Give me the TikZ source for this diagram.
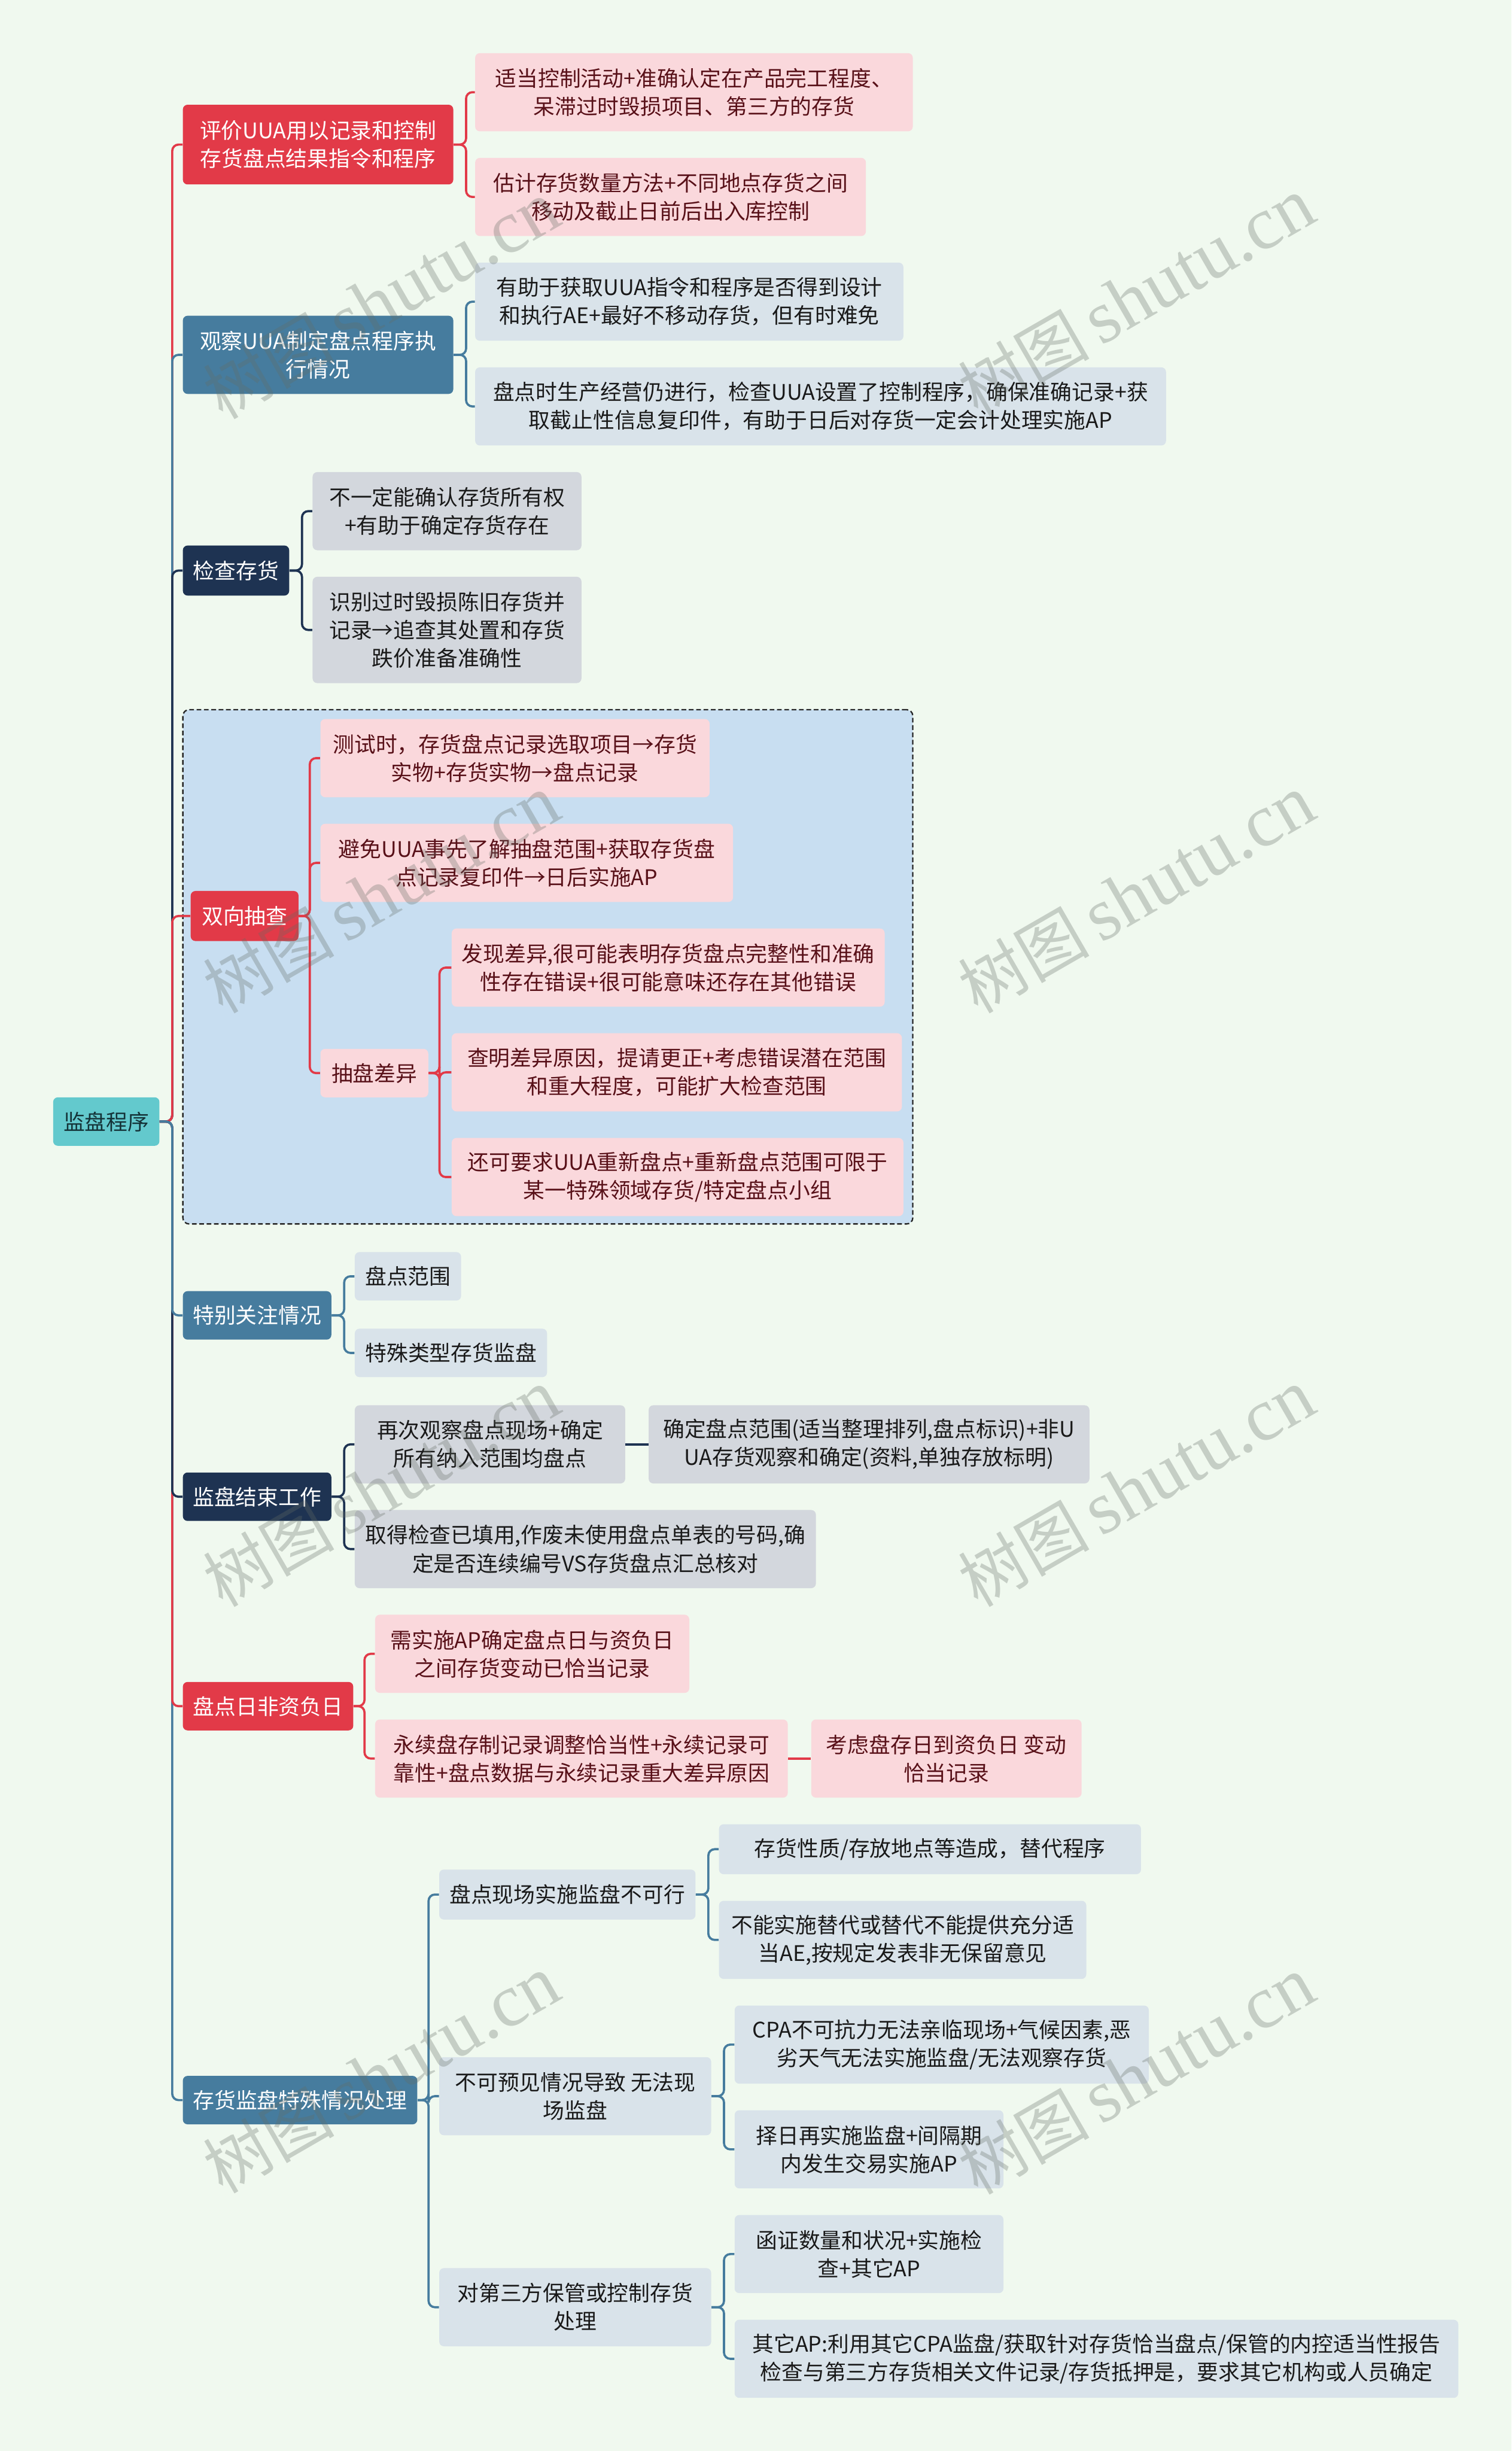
\documentclass[tikz,border=0pt]{standalone}
\usepackage{fontspec}
\setmainfont{Noto Sans CJK SC}
\newfontfamily\wmserif{Liberation Serif}
\definecolor{cBg}{RGB}{240,249,239}
\definecolor{cRed}{RGB}{226,58,72}
\definecolor{cPink}{RGB}{250,216,220}
\definecolor{cMaroon}{RGB}{88,16,24}
\definecolor{cSteel}{RGB}{70,124,158}
\definecolor{cLBlue}{RGB}{217,227,234}
\definecolor{cNavy}{RGB}{30,51,82}
\definecolor{cGrey}{RGB}{211,215,221}
\definecolor{cGroup}{RGB}{200,222,241}
\definecolor{cDash}{RGB}{40,40,40}
\definecolor{cRoot}{RGB}{99,201,205}
\definecolor{cRootTxt}{RGB}{20,50,55}
\definecolor{cDark}{RGB}{25,25,25}
\definecolor{cWm}{RGB}{100,108,100}
\newcommand\mbx[7]{\node[#2, minimum width={#5-#3}, minimum height={#6-#4}] (#1) at ({(#3+#5)/2},{(#4+#6)/2}) {#7};}
\begin{document}
\begin{tikzpicture}[x=1pt,y=-1pt,
  base/.style={rounded corners=3pt, inner sep=0pt, align=center, font=\fontsize{13.7pt}{18pt}\selectfont},
  rootbox/.style={base, fill=cRoot, text=cRootTxt},
  redmain/.style={base, fill=cRed, text=white},
  steelmain/.style={base, fill=cSteel, text=white},
  navymain/.style={base, fill=cNavy, text=white},
  pinkbox/.style={base, fill=cPink, text=cMaroon},
  lbluebox/.style={base, fill=cLBlue, text=cDark},
  greybox/.style={base, fill=cGrey, text=cDark},
  groupbox/.style={draw=cDash, fill=cGroup, dash pattern=on 3pt off 1.7pt, line width=0.9pt, rounded corners=4pt, inner sep=0pt},
  conn/.style={line width=1.4pt, rounded corners=4pt},
  wm/.style={rotate=30, text=cWm, opacity=0.3, inner sep=0pt}
]
\fill[cBg] (0,0) rectangle (967,1568);
\useasboundingbox (0,0) rectangle (967,1568);

% group box
\node[groupbox, minimum width=467, minimum height=329] (grp) at (350.5,618.5) {};

% root
\mbx{root}{rootbox}{34}{702}{102}{733}{监盘程序}

% branch 1
\mbx{m1}{redmain}{117}{67}{290}{118}{评价UUA用以记录和控制\\存货盘点结果指令和程序}
\mbx{c11}{pinkbox}{304}{34}{584}{84}{适当控制活动+准确认定在产品完工程度、\\呆滞过时毁损项目、第三方的存货}
\mbx{c12}{pinkbox}{304}{101}{554}{151}{估计存货数量方法+不同地点存货之间\\移动及截止日前后出入库控制}

% branch 2
\mbx{m2}{steelmain}{117}{202}{290}{252}{观察UUA制定盘点程序执\\行情况}
\mbx{c21}{lbluebox}{304}{168}{578}{218}{有助于获取UUA指令和程序是否得到设计\\和执行AE+最好不移动存货，但有时难免}
\mbx{c22}{lbluebox}{304}{235}{746}{285}{盘点时生产经营仍进行，检查UUA设置了控制程序，确保准确记录+获\\取截止性信息复印件，有助于日后对存货一定会计处理实施AP}

% branch 3
\mbx{m3}{navymain}{117}{349}{185}{381}{检查存货}
\mbx{c31}{greybox}{200}{302}{372}{352}{不一定能确认存货所有权\\+有助于确定存货存在}
\mbx{c32}{greybox}{200}{369}{372}{437}{识别过时毁损陈旧存货并\\记录→追查其处置和存货\\跌价准备准确性}

% branch 4
\mbx{m4}{redmain}{122}{570}{191}{602}{双向抽查}
\mbx{c41}{pinkbox}{205}{460}{454}{510}{测试时，存货盘点记录选取项目→存货\\实物+存货实物→盘点记录}
\mbx{c42}{pinkbox}{205}{527}{469}{577}{避免UUA事先了解抽盘范围+获取存货盘\\点记录复印件→日后实施AP}
\mbx{c43}{pinkbox}{205}{671}{274}{702}{抽盘差异}
\mbx{c431}{pinkbox}{289}{594}{566}{644}{发现差异,很可能表明存货盘点完整性和准确\\性存在错误+很可能意味还存在其他错误}
\mbx{c432}{pinkbox}{289}{661}{577}{711}{查明差异原因，提请更正+考虑错误潜在范围\\和重大程度，可能扩大检查范围}
\mbx{c433}{pinkbox}{289}{728}{578}{778}{还可要求UUA重新盘点+重新盘点范围可限于\\某一特殊领域存货/特定盘点小组}

% branch 5
\mbx{m5}{steelmain}{117}{826}{212}{857}{特别关注情况}
\mbx{c51}{lbluebox}{227}{801}{295}{832}{盘点范围}
\mbx{c52}{lbluebox}{227}{850}{350}{881}{特殊类型存货监盘}

% branch 6
\mbx{m6}{navymain}{117}{942}{212}{973}{监盘结束工作}
\mbx{c61}{greybox}{227}{899}{400}{949}{再次观察盘点现场+确定\\所有纳入范围均盘点}
\mbx{c611}{greybox}{415}{899}{697}{949}{确定盘点范围(适当整理排列,盘点标识)+非U\\UA存货观察和确定(资料,单独存放标明)}
\mbx{c62}{greybox}{227}{966}{522}{1016}{取得检查已填用,作废未使用盘点单表的号码,确\\定是否连续编号VS存货盘点汇总核对}

% branch 7
\mbx{m7}{redmain}{117}{1076}{226}{1107}{盘点日非资负日}
\mbx{c71}{pinkbox}{240}{1033}{441}{1083}{需实施AP确定盘点日与资负日\\之间存货变动已恰当记录}
\mbx{c72}{pinkbox}{240}{1100}{504}{1150}{永续盘存制记录调整恰当性+永续记录可\\靠性+盘点数据与永续记录重大差异原因}
\mbx{c721}{pinkbox}{519}{1100}{692}{1150}{考虑盘存日到资负日 变动\\恰当记录}

% branch 8
\mbx{m8}{steelmain}{117}{1328}{267}{1359}{存货监盘特殊情况处理}
\mbx{c81}{lbluebox}{281}{1196}{445}{1228}{盘点现场实施监盘不可行}
\mbx{c811}{lbluebox}{460}{1167}{730}{1199}{存货性质/存放地点等造成，替代程序}
\mbx{c812}{lbluebox}{460}{1216}{695}{1266}{不能实施替代或替代不能提供充分适\\当AE,按规定发表非无保留意见}
\mbx{c82}{lbluebox}{281}{1316}{455}{1366}{不可预见情况导致 无法现\\场监盘}
\mbx{c821}{lbluebox}{470}{1283}{735}{1333}{CPA不可抗力无法亲临现场+气候因素,恶\\劣天气无法实施监盘/无法观察存货}
\mbx{c822}{lbluebox}{470}{1350}{642}{1400}{择日再实施监盘+间隔期\\内发生交易实施AP}
\mbx{c83}{lbluebox}{281}{1451}{455}{1501}{对第三方保管或控制存货\\处理}
\mbx{c831}{lbluebox}{470}{1417}{642}{1467}{函证数量和状况+实施检\\查+其它AP}
\mbx{c832}{lbluebox}{470}{1484}{933}{1534}{其它AP:利用其它CPA监盘/获取针对存货恰当盘点/保管的内控适当性报告\\检查与第三方存货相关文件记录/存货抵押是，要求其它机构或人员确定}

% trunk connectors (farthest first)
\draw[conn,cRed]   (root.east) -- ++(8,0) |- (m1.west);
\draw[conn,cSteel] (root.east) -- ++(8,0) |- (m2.west);
\draw[conn,cNavy]  (root.east) -- ++(8,0) |- (m3.west);
\draw[conn,cRed]   (root.east) -- ++(8,0) |- (m4.west);
\draw[conn,cSteel] (root.east) -- ++(8,0) |- (m8.west);
\draw[conn,cRed]   (root.east) -- ++(8,0) |- (m7.west);
\draw[conn,cNavy]  (root.east) -- ++(8,0) |- (m6.west);
\draw[conn,cSteel] (root.east) -- ++(8,0) |- (m5.west);

% sub connectors
\draw[conn,cRed] (m1.east) -- ++(8,0) |- (c11.west);
\draw[conn,cRed] (m1.east) -- ++(8,0) |- (c12.west);
\draw[conn,cSteel] (m2.east) -- ++(8,0) |- (c21.west);
\draw[conn,cSteel] (m2.east) -- ++(8,0) |- (c22.west);
\draw[conn,cNavy] (m3.east) -- ++(8,0) |- (c31.west);
\draw[conn,cNavy] (m3.east) -- ++(8,0) |- (c32.west);
\draw[conn,cRed] (m4.east) -- ++(7,0) |- (c41.west);
\draw[conn,cRed] (m4.east) -- ++(7,0) |- (c42.west);
\draw[conn,cRed] (m4.east) -- ++(7,0) |- (c43.west);
\draw[conn,cRed] (c43.east) -- ++(7,0) |- (c431.west);
\draw[conn,cRed] (c43.east) -- ++(7,0) |- (c432.west);
\draw[conn,cRed] (c43.east) -- ++(7,0) |- (c433.west);
\draw[conn,cSteel] (m5.east) -- ++(8,0) |- (c51.west);
\draw[conn,cSteel] (m5.east) -- ++(8,0) |- (c52.west);
\draw[conn,cNavy] (m6.east) -- ++(8,0) |- (c61.west);
\draw[conn,cNavy] (m6.east) -- ++(8,0) |- (c62.west);
\draw[conn,cNavy] (c61.east) -- (c611.west);
\draw[conn,cRed] (m7.east) -- ++(7,0) |- (c71.west);
\draw[conn,cRed] (m7.east) -- ++(7,0) |- (c72.west);
\draw[conn,cRed] (c72.east) -- (c721.west);
\draw[conn,cSteel] (m8.east) -- ++(7,0) |- (c81.west);
\draw[conn,cSteel] (m8.east) -- ++(7,0) |- (c82.west);
\draw[conn,cSteel] (m8.east) -- ++(7,0) |- (c83.west);
\draw[conn,cSteel] (c81.east) -- ++(8,0) |- (c811.west);
\draw[conn,cSteel] (c81.east) -- ++(8,0) |- (c812.west);
\draw[conn,cSteel] (c82.east) -- ++(8,0) |- (c821.west);
\draw[conn,cSteel] (c82.east) -- ++(8,0) |- (c822.west);
\draw[conn,cSteel] (c83.east) -- ++(8,0) |- (c831.west);
\draw[conn,cSteel] (c83.east) -- ++(8,0) |- (c832.west);

% watermarks
\foreach \wx/\wy/\wn in {244/192/1, 727/190/2, 244/572/3, 727/572/4, 244/952/5, 727/952/6, 244/1327/7, 727/1328/8}{
  \node[wm] (wm\wn) at (\wx,\wy) {\fontsize{42pt}{42pt}\selectfont 树图\,{\wmserif\fontsize{48pt}{48pt}\selectfont shutu.cn}};
}
\end{tikzpicture}
\end{document}
